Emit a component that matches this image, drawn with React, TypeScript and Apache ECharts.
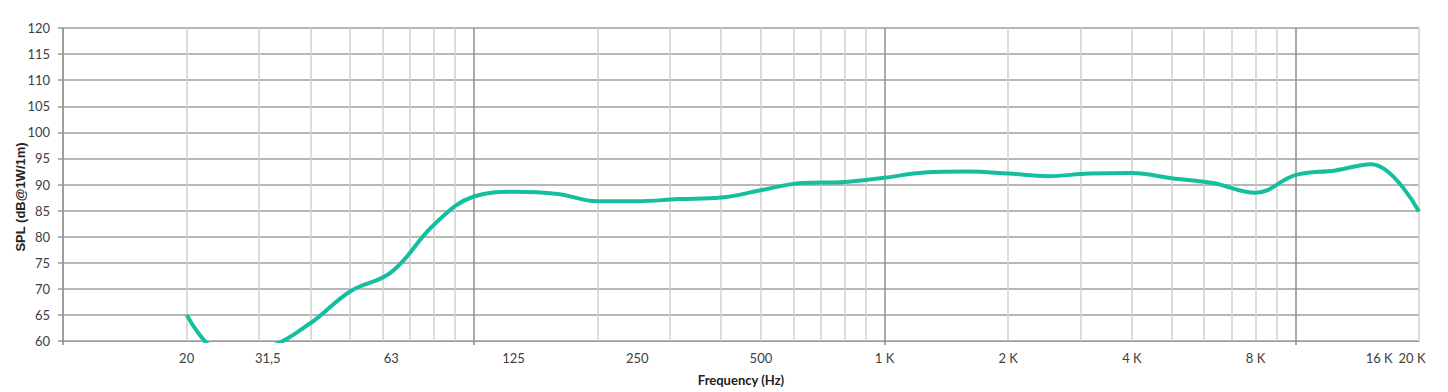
import React, { useEffect, useRef } from "react";
import * as echarts from "echarts";

// Frequency response readings (Hz, dB SPL @1W/1m)
const freqs = [20, 25, 31.5, 40, 50, 63, 80, 100, 125, 160, 200, 250, 315, 400, 500, 630, 800, 1000, 1250, 1600, 2000, 2500, 3150, 4000, 5000, 6300, 8000, 10000, 12500, 15300, 20000];
const spl = [65, 57.4, 58.7, 63.4, 69.5, 73.2, 82.3, 87.7, 88.6, 88.2, 86.8, 86.8, 87.2, 87.5, 88.9, 90.3, 90.5, 91.3, 92.3, 92.5, 92.1, 91.6, 92.1, 92.2, 91.2, 90.3, 88.4, 91.8, 92.7, 93.9, 84.8];

// Axis ticks and grid
const tickFreqs = [20, 31.5, 63, 125, 250, 500, 1000, 2000, 4000, 8000, 16000, 20000];
const tickLabels = ["20", "31,5", "63", "125", "250", "500", "1 K", "2 K", "4 K", "8 K", "16 K", "20 K"];
const minorGridFreqs = [20, 30, 40, 50, 60, 70, 80, 90, 200, 300, 400, 500, 600, 700, 800, 900, 2000, 3000, 4000, 5000, 6000, 7000, 8000, 9000, 20000];
const decadeFreqs = [10, 100, 1000, 10000];
const yMin = 60;
const yMax = 120;
const yStep = 5;
const fMin = 10;
const fMax = 20000;

const lg = (f: number) => Math.log10(f);

export default function App() {
  const ref = useRef<HTMLDivElement>(null);
  useEffect(() => {
    if (!ref.current) return;
    const chart = echarts.init(ref.current, null, { renderer: "svg" });
    const tickVals = tickFreqs.map(lg);
    const fmt = (v: number) => {
      const i = tickVals.findIndex((t) => Math.abs(t - v) < 1e-6);
      if (i < 0) return "";
      if (i === tickVals.length - 1) return "{r|" + tickLabels[i] + "}";
      return tickLabels[i];
    };
    chart.setOption({
      animation: false,
      backgroundColor: "#ffffff",
      grid: { left: 63, right: 29, top: 28, bottom: 51, containLabel: false },
      xAxis: [
        {
          type: "value",
          min: lg(fMin),
          max: lg(fMax),
          position: "bottom",
          name: "Frequency (Hz)",
          nameLocation: "middle",
          nameGap: 32,
          nameTextStyle: { fontFamily: "Lato", fontWeight: "bold", fontSize: 13, color: "#222" },
          axisLine: { show: true, lineStyle: { color: "#9a9a9a", width: 1 } },
          axisTick: { show: false, customValues: minorGridFreqs.map(lg) },
          splitLine: { show: true, lineStyle: { color: "#cfcfcf", width: 1.5 } },
          axisLabel: {
            customValues: tickVals,
            formatter: fmt,
            fontFamily: "Lato",
            fontSize: 13,
            color: "#404040",
            margin: 10,
            rich: { r: { fontFamily: "Lato", fontSize: 13, color: "#404040", padding: [0, 14, 0, 0] } },
          },
        },
        {
          type: "value",
          min: lg(fMin),
          max: lg(fMax),
          position: "bottom",
          offset: 0,
          axisLine: { show: false },
          axisTick: { show: true, length: 4, lineStyle: { color: "#8a8a8a", width: 1.5 }, customValues: decadeFreqs.map(lg) },
          splitLine: { show: true, lineStyle: { color: "#8f8f8f", width: 1.5 } },
          axisLabel: { show: false },
        },
      ],
      yAxis: {
        type: "value",
        min: yMin,
        max: yMax,
        interval: yStep,
        axisLine: { show: true, lineStyle: { color: "#9a9a9a", width: 1.5 } },
        axisTick: { show: true, length: 5, lineStyle: { color: "#9a9a9a", width: 1.5 } },
        splitLine: { show: true, lineStyle: { color: "#9f9f9f", width: 1.5 } },
        axisLabel: { fontFamily: "Lato", fontSize: 13, color: "#404040", margin: 13 },
      },
      graphic: [
        {
          type: "text",
          x: 20,
          y: 197,
          rotation: Math.PI / 2,
          style: {
            text: "SPL (dB@1W/1m)",
            font: "bold 13px 'Liberation Sans', Arial, sans-serif",
            fill: "#222",
            textAlign: "center",
            textVerticalAlign: "middle",
          },
        },
      ],
      series: [
        {
          type: "line",
          xAxisIndex: 0,
          data: freqs.map((f, i) => [lg(f), spl[i]]),
          smooth: 0.4,
          showSymbol: false,
          clip: true,
          lineStyle: { color: "#14bf9f", width: 4 },
          itemStyle: { color: "#14bf9f" },
          z: 5,
        },
      ],
    });
    return () => chart.dispose();
  }, []);
  return <div ref={ref} style={{ position: "fixed", left: 0, top: 0, width: 1448, height: 392 }} />;
}
